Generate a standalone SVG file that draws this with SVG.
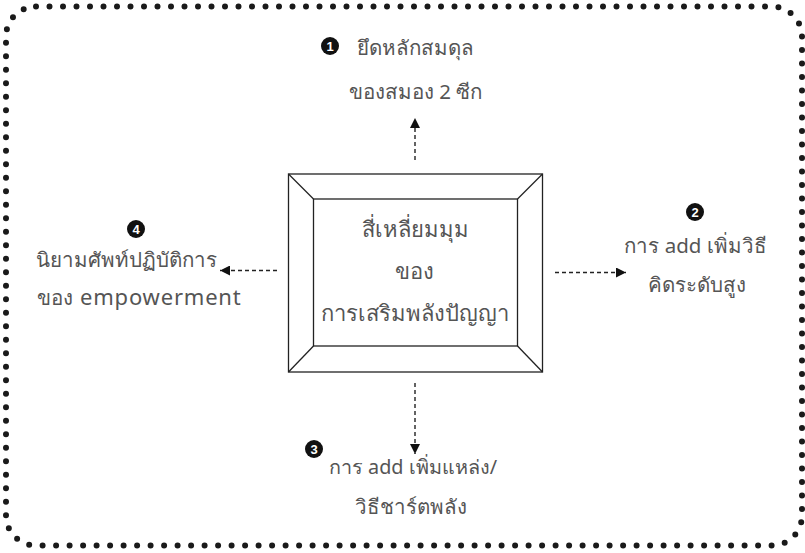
<svg xmlns="http://www.w3.org/2000/svg" width="805" height="553" viewBox="0 0 805 553">
<defs>
<marker id="ah" viewBox="0 0 10 10" refX="10" refY="5" markerWidth="10" markerHeight="10" markerUnits="userSpaceOnUse" orient="auto">
<path d="M0,0 L10,5 L0,10 Z" fill="#111"/>
</marker>
<style>
.t{font-family:"Noto Sans","Liberation Sans",sans-serif;font-size:20.5px;fill:#555;text-anchor:middle}
.m{font-size:22px}
.s{text-anchor:start}
.n{font-family:"Liberation Sans",sans-serif;font-size:13px;font-weight:bold;fill:#fff;text-anchor:middle}
.c{fill:#111}
.d{stroke:#222;stroke-width:1.4;stroke-dasharray:4 3;fill:none}
.f{fill:#fff;stroke:#222;stroke-width:1.3}
</style>
</defs>
<rect width="805" height="553" fill="#fff"/>
<rect x="6" y="6.5" width="796" height="539" rx="30" ry="30" fill="none" stroke="#1a1a1a" stroke-width="6" stroke-linecap="round" stroke-dasharray="0 13.5"/>
<g id="connectors">
<line class="d" x1="415" y1="160" x2="415" y2="118" marker-end="url(#ah)"/>
<line class="d" x1="555" y1="272.5" x2="626" y2="272.5" marker-end="url(#ah)"/>
<line class="d" x1="415" y1="383" x2="415" y2="454" marker-end="url(#ah)"/>
<line class="d" x1="277" y1="270.5" x2="220" y2="270.5" marker-end="url(#ah)"/>
</g>
<g id="center">
<rect class="f" x="288.5" y="174" width="254" height="198"/>
<rect class="f" x="313.5" y="199" width="204" height="147"/>
<line class="f" x1="288.5" y1="174" x2="313.5" y2="199"/>
<line class="f" x1="542.5" y1="174" x2="517.5" y2="199"/>
<line class="f" x1="288.5" y1="372" x2="313.5" y2="346"/>
<line class="f" x1="542.5" y1="372" x2="517.5" y2="346"/>
<text class="t m" x="415" y="237">สี่เหลี่ยมมุม</text>
<text class="t m" x="414" y="279">ของ</text>
<text class="t m" x="415" y="321">การเสริมพลังปัญญา</text>
</g>
<g id="node1">
<circle class="c" cx="330" cy="46" r="9"/>
<text class="n" x="330" y="50.7">1</text>
<text class="t" x="415" y="55">ยึดหลักสมดุล</text>
<text class="t" x="415.5" y="99">ของสมอง 2 ซีก</text>
</g>
<g id="node2">
<circle class="c" cx="695" cy="212" r="9"/>
<text class="n" x="695" y="216.7">2</text>
<text class="t" x="695.5" y="253">การ add เพิ่มวิธี</text>
<text class="t" x="697" y="292">คิดระดับสูง</text>
</g>
<g id="node3">
<circle class="c" cx="314" cy="449" r="9"/>
<text class="n" x="314" y="453.7">3</text>
<text class="t" x="413" y="474" style="font-size:19.8px">การ add เพิ่มแหล่ง/</text>
<text class="t" x="411" y="514">วิธีชาร์ตพลัง</text>
</g>
<g id="node4">
<circle class="c" cx="136" cy="229" r="9"/>
<text class="n" x="136" y="233.7">4</text>
<text class="t" x="126" y="267">นิยามศัพท์ปฏิบัติการ</text>
<text class="t s" x="37" y="305">ของ <tspan x="80" style="font-size:22px;letter-spacing:0.8px">empowerment</tspan></text>
</g>
</svg>
